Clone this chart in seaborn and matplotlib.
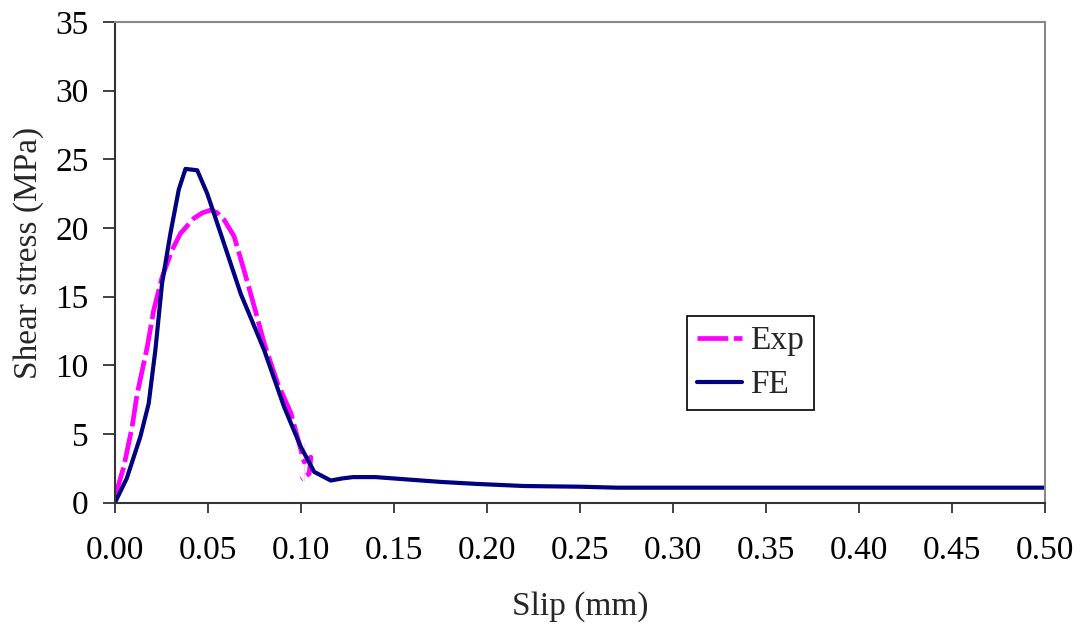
import matplotlib
matplotlib.use("Agg")
import matplotlib.pyplot as plt
import seaborn as sns
import pandas as pd

# Data
fe_slip = [0.0, 0.0063, 0.0136, 0.0181, 0.0217, 0.0253, 0.0298, 0.0343, 0.0379, 0.0442,
           0.0496, 0.0568, 0.0676, 0.0802, 0.0909, 0.0999, 0.1071, 0.116, 0.122, 0.128,
           0.140, 0.150, 0.160, 0.175, 0.195, 0.220, 0.250, 0.270, 0.350, 0.430, 0.500]
fe_stress = [0.0, 1.75, 4.78, 7.2, 11.1, 15.96, 19.6, 22.8, 24.3, 24.2,
             22.5, 19.6, 15.2, 11.1, 6.97, 4.05, 2.23, 1.6, 1.75, 1.85,
             1.85, 1.75, 1.65, 1.5, 1.35, 1.2, 1.15, 1.08, 1.08, 1.08, 1.08]

exp_slip = [0.0, 0.0047, 0.0092, 0.0119, 0.0146, 0.0173, 0.0208, 0.0253, 0.0307, 0.0352,
            0.0424, 0.0470, 0.0514, 0.0550, 0.0586, 0.064, 0.0694, 0.0748, 0.0802, 0.0874,
            0.0946, 0.1017, 0.1053, 0.1044, 0.1017, 0.1000]
exp_stress = [0.4, 2.6, 5.5, 7.9, 9.6, 11.3, 14.0, 16.4, 18.4, 19.6,
              20.7, 21.1, 21.3, 21.1, 20.6, 19.4, 16.9, 14.3, 11.6, 8.7,
              6.5, 4.3, 3.3, 2.1, 1.6, 1.7]

x_ticks = [0.00, 0.05, 0.10, 0.15, 0.20, 0.25, 0.30, 0.35, 0.40, 0.45, 0.50]
y_ticks = [0, 5, 10, 15, 20, 25, 30, 35]

sns.set_style("white")
plt.rcParams['font.family'] = ['Liberation Serif', 'DejaVu Serif']
FS = 24

fig = plt.figure(figsize=(10.83, 6.28), dpi=100)
ax = fig.add_axes([115/1083, 1 - 502.5/628, (1045 - 115)/1083, (502.5 - 22)/628])

df_exp = pd.DataFrame({"slip": exp_slip, "stress": exp_stress})
df_fe = pd.DataFrame({"slip": fe_slip, "stress": fe_stress})

sns.lineplot(data=df_exp, x="slip", y="stress", sort=False, ax=ax, color="#FF00FF",
             linewidth=3.4, linestyle=(0, (6.5, 1.2)), label="Exp")
sns.lineplot(data=df_fe, x="slip", y="stress", sort=False, ax=ax, color="#000080",
             linewidth=3.0, label="FE")

ax.set_xlim(0, 0.5)
ax.set_ylim(0, 35)
ax.set_xticks(x_ticks)
ax.set_xticklabels([f"{v:.2f}" for v in x_ticks])
ax.set_yticks(y_ticks)
ax.set_yticklabels([str(v) for v in y_ticks])
ax.tick_params(axis="x", direction="out", length=7, width=1.3, colors="#333333",
               labelcolor="black", labelsize=FS, pad=17, bottom=True)
ax.tick_params(axis="y", direction="out", length=9, width=1.3, colors="#333333",
               labelcolor="black", labelsize=FS, pad=10, left=True)
ax.set_xlabel("Slip (mm)", fontsize=FS, labelpad=18)
ax.set_ylabel("Shear stress (MPa)", fontsize=FS, labelpad=8)
ax.yaxis.label.set_y(0.52)

for s in ["left", "bottom"]:
    ax.spines[s].set_color("#333333")
    ax.spines[s].set_linewidth(1.5)
for s in ["top", "right"]:
    ax.spines[s].set_color("#888888")
    ax.spines[s].set_linewidth(1.5)
    ax.spines[s].set_visible(True)

leg = ax.legend(loc="upper left", bbox_to_anchor=((687 - 115)/930, (502.5 - 316)/480.5),
                fontsize=FS, frameon=True, fancybox=False, framealpha=1,
                handlelength=1.35, handletextpad=0.25, borderpad=0.3, labelspacing=0.4,
                borderaxespad=0)
leg.get_frame().set_edgecolor("black")
leg.get_frame().set_linewidth(1.2)

fig.savefig("out.png", dpi=100)
